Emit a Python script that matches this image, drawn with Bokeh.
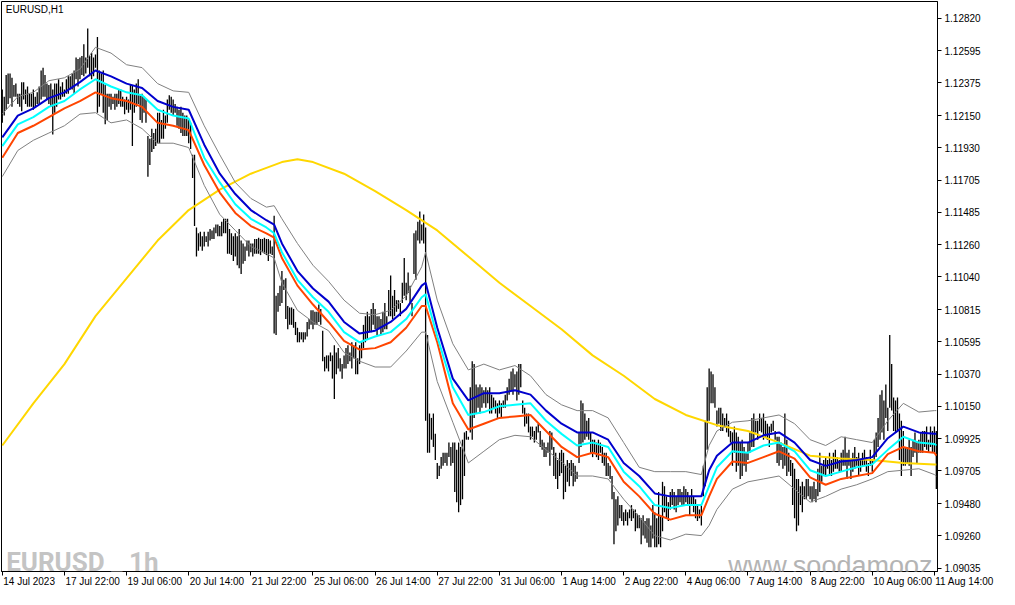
from bokeh.plotting import figure
from bokeh.models import Range1d, LinearAxis, FixedTicker, NumeralTickFormatter, Label
from bokeh.embed import file_html
from bokeh.resources import INLINE

# ---------------- data (EURUSD H1 bars, highs / lows) ----------------
bar_high = [
    1.1233, 1.1228, 1.1243, 1.1244, 1.1244, 1.1241, 1.1236, 1.1237, 1.1230, 1.1230,
    1.1238, 1.1238, 1.1233, 1.1235, 1.1230, 1.1230, 1.1233, 1.1228, 1.1231, 1.1235,
    1.1246, 1.1248, 1.1243, 1.1237, 1.1236, 1.1237, 1.1233, 1.1237, 1.1237, 1.1240,
    1.1235, 1.1238, 1.1233, 1.1240, 1.1242, 1.1242, 1.1244, 1.1246, 1.1255, 1.1254,
    1.1255, 1.1256, 1.1264, 1.1255, 1.1275, 1.1256, 1.1258, 1.1255, 1.1257, 1.1269,
    1.1246, 1.1244, 1.1246, 1.1236, 1.1230, 1.1230, 1.1230, 1.1228, 1.1230, 1.1230,
    1.1233, 1.1233, 1.1228, 1.1226, 1.1228, 1.1226, 1.1236, 1.1236, 1.1233, 1.1237,
    1.1240, 1.1229, 1.1230, 1.1228, 1.1226, 1.1201, 1.1199, 1.1206, 1.1203, 1.1206,
    1.1217, 1.1217, 1.1212, 1.1219, 1.1215, 1.1226, 1.1229, 1.1228, 1.1226, 1.1223,
    1.1221, 1.1219, 1.1221, 1.1217, 1.1215, 1.1215, 1.1212, 1.1210, 1.1188, 1.1188,
    1.1138, 1.1134, 1.1135, 1.1132, 1.1135, 1.1132, 1.1135, 1.1137, 1.1136, 1.1138,
    1.1140, 1.1140, 1.1139, 1.1142, 1.1144, 1.1144, 1.1144, 1.1137, 1.1134, 1.1132,
    1.1134, 1.1132, 1.1137, 1.1129, 1.1127, 1.1125, 1.1129, 1.1129, 1.1127, 1.1127,
    1.1130, 1.1130, 1.1131, 1.1130, 1.1130, 1.1131, 1.1130, 1.1130, 1.1129, 1.1125,
    1.1146, 1.1091, 1.1093, 1.1098, 1.1108, 1.1102, 1.1103, 1.1084, 1.1083, 1.1083,
    1.1082, 1.1073, 1.1069, 1.1066, 1.1066, 1.1066, 1.1066, 1.1073, 1.1075, 1.1081,
    1.1081, 1.1080, 1.1080, 1.1085, 1.1082, 1.1067, 1.1049, 1.1050, 1.1050, 1.1052,
    1.1050, 1.1057, 1.1052, 1.1055, 1.1048, 1.1044, 1.1050, 1.1055, 1.1057, 1.1052,
    1.1059, 1.1057, 1.1059, 1.1048, 1.1057, 1.1059, 1.1071, 1.1077, 1.1080, 1.1077,
    1.1082, 1.1086, 1.1082, 1.1077, 1.1077, 1.1075, 1.1080, 1.1086, 1.1077, 1.1095,
    1.1105, 1.1091, 1.1095, 1.1088, 1.1088, 1.1086, 1.1100, 1.1117, 1.1100, 1.1107,
    1.1098, 1.1086, 1.1134, 1.1136, 1.1142, 1.1149, 1.1140, 1.1147, 1.1138, 1.1064,
    1.1010, 1.1007, 1.1010, 1.0996, 1.0976, 1.0974, 1.0980, 1.0983, 1.0983, 1.0983,
    1.0990, 1.0987, 1.0990, 1.0990, 1.0985, 1.0990, 1.0987, 1.0992, 1.0997, 1.0998,
    1.0994, 1.1028, 1.1046, 1.1044, 1.1030, 1.1028, 1.1030, 1.1028, 1.1026, 1.1028,
    1.1026, 1.1028, 1.1023, 1.1021, 1.1019, 1.1017, 1.1019, 1.1017, 1.1019, 1.1023,
    1.1028, 1.1034, 1.1039, 1.1041, 1.1037, 1.1039, 1.1044, 1.1044, 1.1019, 1.1014,
    1.1010, 1.1010, 1.1001, 1.1001, 1.0998, 1.1001, 1.1003, 1.0998, 1.0992, 1.0990,
    1.0987, 1.0990, 1.0998, 1.0997, 1.0987, 1.0983, 1.0978, 1.0983, 1.0985, 1.0983,
    1.0974, 1.0978, 1.0976, 1.0978, 1.0976, 1.0974, 1.0970, 1.0997, 1.1019, 1.1017,
    1.1010, 1.1005, 1.1007, 1.0997, 1.0992, 1.0992, 1.0990, 1.0992, 1.0990, 1.0987,
    1.0983, 1.0983, 1.0976, 1.0974, 1.0967, 1.0956, 1.0951, 1.0953, 1.0947, 1.0947,
    1.0942, 1.0944, 1.0942, 1.0944, 1.0947, 1.0944, 1.0944, 1.0941, 1.0940, 1.0938,
    1.0940, 1.0936, 1.0938, 1.0938, 1.0933, 1.0947, 1.0942, 1.0938, 1.0956, 1.0940,
    1.0963, 1.0960, 1.0953, 1.0949, 1.0956, 1.0958, 1.0956, 1.0953, 1.0958, 1.0958,
    1.0956, 1.0960, 1.0958, 1.0956, 1.0953, 1.0958, 1.0953, 1.0951, 1.0947, 1.0944,
    1.0947, 1.0974, 1.1005, 1.1028, 1.1041, 1.1039, 1.1037, 1.1028, 1.1012, 1.1014,
    1.1014, 1.1010, 1.1007, 1.1010, 1.1005, 1.0998, 1.0997, 1.1001, 1.0997, 1.0994,
    1.0990, 1.0992, 1.0987, 1.0983, 1.0990, 1.0997, 1.1007, 1.1010, 1.1005, 1.1005,
    1.1010, 1.1007, 1.1010, 1.1005, 1.1003, 1.1001, 1.1003, 1.1005, 1.0998, 1.0994,
    1.0994, 1.0990, 1.0987, 1.1010, 1.0992, 1.0983, 1.0978, 1.0976, 1.0972, 1.0965,
    1.0965, 1.0960, 1.0963, 1.0960, 1.0965, 1.0965, 1.0960, 1.0960, 1.0963, 1.0958,
    1.0972, 1.0983, 1.0974, 1.0978, 1.0980, 1.0978, 1.0983, 1.0978, 1.0983, 1.0985,
    1.0980, 1.0978, 1.0983, 1.0985, 1.0994, 1.0983, 1.0985, 1.0978, 1.0983, 1.0987,
    1.0980, 1.0983, 1.0978, 1.0983, 1.0985, 1.0980, 1.0976, 1.0985, 1.0978, 1.0992,
    1.0997, 1.1007, 1.1023, 1.1026, 1.1019, 1.1030, 1.1014, 1.1064, 1.1044, 1.1021,
    1.1019, 1.1021, 1.1010, 1.1005, 1.0998, 1.0987, 1.0987, 1.0992, 1.0987, 1.0992,
    1.0997, 1.0990, 1.0992, 1.0997, 1.0998, 1.0998, 1.1001, 1.0992, 1.1001, 1.0998,
    1.1001, 1.0998,
]

bar_low = [
    1.1210, 1.1215, 1.1219, 1.1223, 1.1227, 1.1221, 1.1228, 1.1228, 1.1223, 1.1221,
    1.1218, 1.1226, 1.1223, 1.1221, 1.1221, 1.1221, 1.1219, 1.1221, 1.1223, 1.1223,
    1.1226, 1.1228, 1.1228, 1.1226, 1.1223, 1.1221, 1.1202, 1.1217, 1.1221, 1.1226,
    1.1226, 1.1228, 1.1228, 1.1230, 1.1230, 1.1233, 1.1233, 1.1230, 1.1240, 1.1235,
    1.1240, 1.1243, 1.1242, 1.1244, 1.1248, 1.1242, 1.1240, 1.1242, 1.1248, 1.1217,
    1.1221, 1.1230, 1.1217, 1.1209, 1.1212, 1.1221, 1.1219, 1.1223, 1.1219, 1.1221,
    1.1223, 1.1221, 1.1221, 1.1216, 1.1219, 1.1217, 1.1219, 1.1194, 1.1217, 1.1221,
    1.1223, 1.1212, 1.1210, 1.1217, 1.1210, 1.1173, 1.1181, 1.1190, 1.1192, 1.1194,
    1.1196, 1.1196, 1.1199, 1.1199, 1.1206, 1.1210, 1.1219, 1.1217, 1.1215, 1.1217,
    1.1208, 1.1206, 1.1203, 1.1201, 1.1201, 1.1201, 1.1196, 1.1192, 1.1172, 1.1139,
    1.1118, 1.1122, 1.1125, 1.1122, 1.1125, 1.1128, 1.1125, 1.1129, 1.1130, 1.1130,
    1.1134, 1.1132, 1.1132, 1.1132, 1.1134, 1.1134, 1.1120, 1.1120, 1.1119, 1.1115,
    1.1118, 1.1112, 1.1110, 1.1106, 1.1113, 1.1115, 1.1122, 1.1118, 1.1121, 1.1118,
    1.1120, 1.1120, 1.1120, 1.1119, 1.1121, 1.1120, 1.1119, 1.1115, 1.1120, 1.1119,
    1.1065, 1.1064, 1.1080, 1.1084, 1.1086, 1.1095, 1.1075, 1.1068, 1.1071, 1.1071,
    1.1069, 1.1064, 1.1059, 1.1059, 1.1061, 1.1059, 1.1061, 1.1063, 1.1068, 1.1071,
    1.1068, 1.1071, 1.1071, 1.1073, 1.1071, 1.1046, 1.1039, 1.1041, 1.1039, 1.1046,
    1.1034, 1.1020, 1.1037, 1.1041, 1.1039, 1.1034, 1.1041, 1.1041, 1.1044, 1.1046,
    1.1041, 1.1048, 1.1037, 1.1037, 1.1044, 1.1048, 1.1055, 1.1059, 1.1061, 1.1066,
    1.1066, 1.1071, 1.1068, 1.1064, 1.1068, 1.1064, 1.1066, 1.1068, 1.1068, 1.1077,
    1.1077, 1.1075, 1.1077, 1.1080, 1.1082, 1.1077, 1.1086, 1.1091, 1.1088, 1.1093,
    1.1086, 1.1077, 1.1106, 1.1102, 1.1129, 1.1127, 1.1129, 1.1127, 1.1005, 1.0983,
    1.0983, 1.0992, 1.0987, 1.0978, 1.0965, 1.0967, 1.0972, 1.0974, 1.0976, 1.0974,
    1.0980, 1.0974, 1.0976, 1.0956, 1.0949, 1.0942, 1.0947, 1.0951, 1.0967, 1.0992,
    1.0992, 1.0997, 1.0992, 1.1007, 1.1010, 1.1014, 1.1010, 1.1014, 1.1017, 1.1014,
    1.1017, 1.1010, 1.1010, 1.1014, 1.1010, 1.1007, 1.1010, 1.1007, 1.1014, 1.1014,
    1.1019, 1.1023, 1.1026, 1.1023, 1.1028, 1.1019, 1.1023, 1.1028, 1.1010, 1.1001,
    1.1003, 1.0997, 1.0992, 1.0994, 1.0990, 1.0992, 1.0997, 1.0987, 1.0985, 1.0980,
    1.0980, 1.0983, 1.0974, 1.0985, 1.0967, 1.0965, 1.0958, 1.0967, 1.0969, 1.0951,
    1.0956, 1.0963, 1.0960, 1.0967, 1.0960, 1.0963, 1.0965, 1.0976, 1.0987, 1.0990,
    1.0992, 1.0994, 1.0992, 1.0983, 1.0980, 1.0983, 1.0980, 1.0978, 1.0983, 1.0976,
    1.0974, 1.0967, 1.0967, 1.0965, 1.0951, 1.0920, 1.0929, 1.0933, 1.0938, 1.0936,
    1.0933, 1.0936, 1.0933, 1.0938, 1.0936, 1.0938, 1.0929, 1.0931, 1.0931, 1.0920,
    1.0926, 1.0924, 1.0921, 1.0918, 1.0918, 1.0924, 1.0918, 1.0918, 1.0920, 1.0918,
    1.0929, 1.0942, 1.0938, 1.0936, 1.0944, 1.0947, 1.0944, 1.0942, 1.0947, 1.0949,
    1.0947, 1.0947, 1.0949, 1.0947, 1.0940, 1.0947, 1.0942, 1.0938, 1.0936, 1.0938,
    1.0933, 1.0953, 1.0960, 1.0985, 1.1005, 1.1017, 1.1017, 1.1014, 1.1001, 1.1003,
    1.0998, 1.0998, 1.1001, 1.0997, 1.0994, 1.0990, 1.0974, 1.0983, 1.0970, 1.0974,
    1.0965, 1.0967, 1.0974, 1.0970, 1.0978, 1.0983, 1.0987, 1.0987, 1.0997, 1.0992,
    1.0998, 1.0997, 1.0992, 1.0994, 1.0992, 1.0987, 1.0997, 1.0998, 1.0992, 1.0976,
    1.0974, 1.0978, 1.0972, 1.0974, 1.0967, 1.0970, 1.0967, 1.0947, 1.0938, 1.0929,
    1.0933, 1.0947, 1.0942, 1.0951, 1.0951, 1.0953, 1.0951, 1.0949, 1.0951, 1.0949,
    1.0953, 1.0956, 1.0963, 1.0967, 1.0967, 1.0972, 1.0967, 1.0967, 1.0970, 1.0972,
    1.0972, 1.0970, 1.0970, 1.0974, 1.0974, 1.0965, 1.0974, 1.0965, 1.0970, 1.0972,
    1.0974, 1.0967, 1.0970, 1.0974, 1.0974, 1.0970, 1.0967, 1.0974, 1.0970, 1.0976,
    1.0980, 1.0987, 1.0992, 1.0997, 1.0992, 1.1007, 1.0998, 1.1014, 1.1012, 1.0998,
    1.0997, 1.0998, 1.0978, 1.0967, 1.0974, 1.0974, 1.0976, 1.0974, 1.0967, 1.0980,
    1.0983, 1.0976, 1.0983, 1.0983, 1.0983, 1.0987, 1.0985, 1.0983, 1.0987, 1.0983,
    1.0983, 1.0958,
]

# ---------------- indicator lines (read at these bar numbers) ----------------
line_bars = [0, 8, 16, 24, 32, 40, 48, 56, 64, 72, 80, 88, 96, 104, 112, 120, 128, 136, 140,
             144, 152, 160, 168, 176, 184, 192, 200, 208, 216, 218, 224, 232, 240, 248, 256,
             264, 272, 280, 288, 296, 304, 312, 320, 328, 336, 344, 352, 360, 364, 368, 376,
             384, 392, 400, 408, 416, 424, 432, 440, 448, 456, 464, 472, 480, 481]

ma_blue = [1.1200, 1.1215, 1.1220, 1.1227, 1.1231, 1.1238, 1.1246, 1.1242, 1.1237, 1.1234,
           1.1225, 1.1221, 1.1219, 1.1195, 1.1175, 1.1161, 1.1150, 1.1143, 1.1140, 1.1127,
           1.1108, 1.1096, 1.1087, 1.1073, 1.1065, 1.1067, 1.1073, 1.1082, 1.1098, 1.1100,
           1.1069, 1.1034, 1.1019, 1.1024, 1.1024, 1.1026, 1.1023, 1.1012, 1.1003, 1.0997,
           1.0997, 1.0992, 1.0976, 1.0967, 1.0955, 1.0953, 1.0953, 1.0953, 1.0971, 1.0981,
           1.0990, 1.0990, 1.0995, 1.0997, 1.0990, 1.0978, 1.0974, 1.0977, 1.0978, 1.0980,
           1.0993, 1.1001, 1.0997, 1.0996, 1.0996]

ma_cyan = [1.1194, 1.1209, 1.1214, 1.1221, 1.1225, 1.1233, 1.1240, 1.1235, 1.1231, 1.1229,
           1.1219, 1.1215, 1.1213, 1.1186, 1.1169, 1.1154, 1.1144, 1.1138, 1.1134, 1.1121,
           1.1102, 1.1090, 1.1080, 1.1066, 1.1059, 1.1063, 1.1066, 1.1075, 1.1090, 1.1092,
           1.1063, 1.1028, 1.1009, 1.1011, 1.1015, 1.1016, 1.1017, 1.1005, 1.0996, 1.0988,
           1.0990, 1.0987, 1.0970, 1.0960, 1.0947, 1.0945, 1.0947, 1.0947, 1.0960, 1.0973,
           1.0984, 1.0983, 1.0988, 1.0990, 1.0984, 1.0971, 1.0967, 1.0970, 1.0973, 1.0975,
           1.0985, 1.0994, 1.0990, 1.0989, 1.0988]

ma_orange = [1.1186, 1.1203, 1.1208, 1.1214, 1.1220, 1.1225, 1.1231, 1.1227, 1.1225, 1.1221,
             1.1210, 1.1208, 1.1205, 1.1181, 1.1162, 1.1148, 1.1139, 1.1134, 1.1131, 1.1117,
             1.1098, 1.1085, 1.1073, 1.1060, 1.1054, 1.1055, 1.1059, 1.1069, 1.1084, 1.1084,
             1.1059, 1.1017, 1.0999, 1.1003, 1.1007, 1.1008, 1.1009, 1.0998, 1.0987, 1.0980,
             1.0983, 1.0980, 1.0963, 1.0953, 1.0941, 1.0937, 1.0940, 1.0940, 1.0953, 1.0965,
             1.0977, 1.0976, 1.0980, 1.0984, 1.0979, 1.0966, 1.0961, 1.0965, 1.0967, 1.0969,
             1.0982, 1.0987, 1.0984, 1.0983, 1.0981]

env_upper = [1.1216, 1.1228, 1.1231, 1.1239, 1.1241, 1.1247, 1.1262, 1.1258, 1.1250, 1.1248,
             1.1237, 1.1232, 1.1231, 1.1208, 1.1188, 1.1169, 1.1158, 1.1152, 1.1153, 1.1144,
             1.1127, 1.1112, 1.1101, 1.1088, 1.1079, 1.1078, 1.1081, 1.1091, 1.1111, 1.1121,
             1.1088, 1.1058, 1.1040, 1.1044, 1.1040, 1.1043, 1.1036, 1.1023, 1.1016, 1.1012,
             1.1012, 1.1007, 1.0990, 1.0973, 1.0970, 1.0970, 1.0970, 1.0968, 1.0988, 1.0998,
             1.1004, 1.1005, 1.1007, 1.1009, 1.1003, 1.0992, 1.0988, 1.0994, 1.0992, 1.0990,
             1.1005, 1.1017, 1.1011, 1.1012, 1.1012]

env_lower = [1.1173, 1.1191, 1.1198, 1.1203, 1.1208, 1.1216, 1.1217, 1.1210, 1.1212, 1.1206,
             1.1196, 1.1196, 1.1193, 1.1167, 1.1147, 1.1136, 1.1125, 1.1120, 1.1117, 1.1100,
             1.1081, 1.1073, 1.1067, 1.1052, 1.1046, 1.1042, 1.1042, 1.1053, 1.1066, 1.1066,
             1.1032, 1.1004, 1.0976, 1.0984, 1.0992, 1.0995, 1.0994, 1.0985, 1.0977, 1.0967,
             1.0967, 1.0965, 1.0951, 1.0939, 1.0926, 1.0923, 1.0927, 1.0926, 1.0933, 1.0944,
             1.0958, 1.0963, 1.0965, 1.0967, 1.0958, 1.0949, 1.0953, 1.0958, 1.0961, 1.0965,
             1.0970, 1.0971, 1.0972, 1.0968, 1.0967]

slow_bars = [0, 16, 32, 48, 64, 80, 96, 112, 128, 144, 152, 160, 176, 192, 208, 224, 240,
             256, 272, 288, 304, 320, 336, 352, 368, 384, 400, 416, 432, 448, 464, 480, 481]
ma_slow = [1.0988, 1.1017, 1.1044, 1.1077, 1.1103, 1.1129, 1.1150, 1.1164, 1.1175, 1.1183,
           1.1185, 1.1183, 1.1175, 1.1163, 1.1150, 1.1136, 1.1118, 1.1100, 1.1084, 1.1068,
           1.1050, 1.1036, 1.1020, 1.1009, 1.1002, 1.0998, 1.0990, 1.0981, 1.0979, 1.0978,
           1.0976, 1.0975, 1.0975]

# ---------------- axis labels ----------------
price_ticks = [1.12820, 1.12595, 1.12375, 1.12150, 1.11930, 1.11705, 1.11485, 1.11260, 1.11040,
               1.10815, 1.10595, 1.10370, 1.10150, 1.09925, 1.09705, 1.09480, 1.09260, 1.09035]
time_labels = ["14 Jul 2023", "17 Jul 22:00", "19 Jul 06:00", "20 Jul 14:00", "21 Jul 22:00",
               "25 Jul 06:00", "26 Jul 14:00", "27 Jul 22:00", "31 Jul 06:00", "1 Aug 14:00",
               "2 Aug 22:00", "4 Aug 06:00", "7 Aug 14:00", "8 Aug 22:00", "10 Aug 06:00",
               "11 Aug 14:00"]
time_label_bars = [0, 32, 64, 96, 128, 160, 192, 224, 256, 288, 320, 352, 384, 416, 448, 480]

# ---------------- layout ----------------
FIG_W, FIG_H = 999, 589
BORDER_L, BORDER_R = 1, 62
X0, X1 = -0.4, 481.6
Y0, Y1 = 1.09013, 1.12935
FONT = "Liberation Sans"

p = figure(width=FIG_W, height=FIG_H, output_backend="svg", toolbar_location=None,
           x_range=Range1d(X0, X1), y_range=Range1d(Y0, Y1),
           x_axis_location=None, y_axis_location=None,
           min_border=0, min_border_left=BORDER_L, min_border_top=1,
           min_border_right=BORDER_R, min_border_bottom=0)
p.grid.visible = False
p.outline_line_color = "black"
p.outline_line_width = 1
p.background_fill_color = "white"
p.border_fill_color = "white"

# Approximate Arial advance widths (em), used to start each bottom label at its tick
ADV = {' ': 0.278, ':': 0.278, 'J': 0.5, 'u': 0.556, 'l': 0.222, 'A': 0.667, 'g': 0.556}
NBSP = "\u00a0"


def text_px(s, size=10):
    return sum(ADV.get(c, 0.556) for c in s) * size


px_per_bar = (FIG_W - BORDER_L - BORDER_R) / (X1 - X0)
centers = []
overrides = {}
for b, lbl in zip(time_label_bars[:-1], time_labels[:-1]):
    c = round(b + (text_px(lbl) / 2 + 1) / px_per_bar, 3)
    centers.append(c)
    overrides[c] = lbl
# the last tick is at the right edge of the frame: anchor its label on the tick
# and pad it on the left with non-breaking spaces so the visible text starts there
last_c = round(time_label_bars[-1] + 0.5, 3)
pad = NBSP * int(round(text_px(time_labels[-1]) / (0.278 * 10)))
centers.append(last_c)
overrides[last_c] = pad + time_labels[-1]

xaxis = LinearAxis(ticker=FixedTicker(ticks=centers, minor_ticks=time_label_bars),
                   major_label_overrides=overrides,
                   major_tick_out=0, major_tick_in=0,
                   minor_tick_out=4, minor_tick_in=0, minor_tick_line_color="black",
                   axis_line_color="black", major_label_standoff=0,
                   axis_label_standoff=0,
                   major_label_text_font=FONT, major_label_text_font_size="10px",
                   major_label_text_line_height=1.0,
                   major_label_text_color="black")
p.add_layout(xaxis, "below")

yaxis = LinearAxis(ticker=FixedTicker(ticks=price_ticks, minor_ticks=[]),
                   formatter=NumeralTickFormatter(format="0.00000"),
                   major_tick_out=4, major_tick_in=0, minor_tick_out=0, minor_tick_in=0,
                   axis_line_color="black", major_tick_line_color="black",
                   major_label_standoff=3,
                   major_label_text_font=FONT, major_label_text_font_size="10px",
                   major_label_text_color="black")
p.add_layout(yaxis, "right")

# ---------------- marks ----------------
bars_x = list(range(len(bar_high)))
p.segment(x0=bars_x, y0=bar_low, x1=bars_x, y1=bar_high, line_color="black", line_width=1.3)

p.line(slow_bars, ma_slow, line_color="#ffd700", line_width=2)
p.line(line_bars, env_upper, line_color="#808080", line_width=1)
p.line(line_bars, env_lower, line_color="#808080", line_width=1)
p.line(line_bars, ma_orange, line_color="#ff4500", line_width=2)
p.line(line_bars, ma_cyan, line_color="#00ffff", line_width=2)
p.line(line_bars, ma_blue, line_color="#0000cd", line_width=2)

# ---------------- texts ----------------
ppp = (Y1 - Y0) / 565.0
p.add_layout(Label(x=1.8, y=Y1 - 8 * ppp, text="EURUSD,H1", text_font=FONT,
                   text_font_size="10px", text_color="black", text_baseline="middle"))
p.add_layout(Label(x=2.0, y=Y0 + 9 * ppp, text="EURUSD _ 1h",
                   text_font="Roboto", text_font_size="26px", text_font_style="bold",
                   text_color="#c4c4c4", text_baseline="alphabetic"))
p.add_layout(Label(x=479.0, y=Y0 + 5 * ppp, text="www.soodamooz",
                   text_font=FONT, text_font_size="27px",
                   text_color="#b4b4b4", text_baseline="alphabetic", text_align="right"))

open("out.html", "w").write(file_html(p, INLINE))
